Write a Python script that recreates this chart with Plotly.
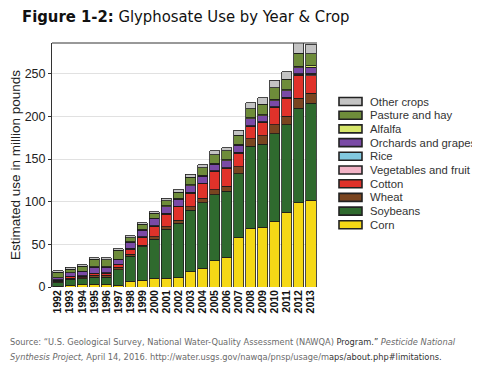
import plotly.graph_objects as go

years = [str(y) for y in range(1992, 2014)]

series_names = ["Corn", "Soybeans", "Wheat", "Cotton", "Vegetables and fruit", "Rice",
                "Orchards and grapes", "Alfalfa", "Pasture and hay", "Other crops"]

corn = [1, 2, 2.5, 3, 3, 2, 7, 8, 10, 10, 11, 18, 22, 31, 35, 58, 69, 70, 77, 87.5, 99, 101.5]
soybeans = [4, 7, 7, 8.5, 8.5, 18, 29, 39, 46, 57.5, 64, 72, 77, 77, 77, 75, 96, 97.5, 102.5, 102.5, 110.5, 114]
wheat = [2, 1.5, 1.5, 2, 2, 3, 2.5, 2, 3, 3, 3, 4, 5, 6, 6, 8, 9, 10, 10.5, 10, 11.5, 11.5]
cotton = [1, 1.5, 1.5, 2, 2.5, 3, 6, 9, 12, 15, 16, 16, 17, 21, 21, 16, 14, 15, 20, 21, 27, 20.5]
vegetables = [0.2, 0.3, 0.3, 0.3, 0.3, 0.3, 0.5, 0.5, 0.5, 0.5, 0.5, 0.5, 0.5, 0.5, 0.5, 0.5, 0.5, 0.5, 0.5, 0.7, 1.5, 2]
rice = [0.1, 0.2, 0.2, 0.2, 0.2, 0.2, 0.3, 0.3, 0.3, 0.3, 0.3, 0.3, 0.3, 0.5, 0.5, 0.5, 0.5, 0.5, 0.5, 0.6, 0.7, 0.8]
orchards = [2.5, 4, 5, 7, 6.5, 5.5, 7, 8, 8, 8, 8, 8, 8, 8, 8, 8, 8, 7, 7.5, 8, 7, 7.5]
alfalfa = [0.3, 0.5, 0.5, 0.5, 0.5, 0.5, 1, 1, 1, 1, 1, 1, 1, 1, 1, 1.5, 1.5, 1.5, 1.5, 1, 1.5, 1.5]
pasture = [6, 4, 6, 9, 8.5, 10.5, 4.5, 5.5, 5.5, 6, 7, 9, 9, 10, 11, 10.5, 10.5, 12, 13.5, 12.5, 15, 14]
other = [2, 2, 1.5, 2, 2, 2, 2, 2, 2, 2.5, 3, 3.5, 3.5, 4.5, 3.5, 5.5, 7, 8, 9, 8.5, 12.5, 11]

series_values = [corn, soybeans, wheat, cotton, vegetables, rice, orchards, alfalfa, pasture, other]
colors = ["#f5d816", "#2f6a2e", "#7a4520", "#e0322a", "#f2b3c6", "#82c9e0",
          "#7a4aa6", "#d6e66a", "#6e8c3a", "#c3c3c3"]

yticks = [0, 50, 100, 150, 200, 250]

SANS = "Arial, Liberation Sans, sans-serif"
NARROW = "DejaVu Sans Condensed"

fig = go.Figure()
for name, vals, col in zip(series_names, series_values, colors):
    fig.add_trace(go.Bar(x=years, y=vals, name=name,
                         marker=dict(color=col, line=dict(color="#1c1c1c", width=0.8)),
                         showlegend=False))

OFF = 8  # page body margin
W, H = 480 - OFF, 369 - OFF
PL, PR, PT, PB = 52, 317, 43, 287  # target plot-area edges in window pixels
ml, mt = PL - OFF, PT - OFF
mr, mb = W - (PR - OFF), H - (PB - OFF)
pw, ph = PR - PL, PB - PT

def px_x(px):
    return (px - PL) / pw

def px_y(py):
    return (PB - py) / ph

shapes = []
annotations = []
shapes.append(dict(type="line", xref="paper", yref="paper", x0=0, x1=1, y0=1, y1=1,
                   line=dict(color="#333", width=1)))

for i, (name, col) in enumerate(zip(reversed(series_names), reversed(colors))):
    cy = 101.5 + 13.7 * i
    shapes.append(dict(type="rect", xref="paper", yref="paper",
                       x0=px_x(339), x1=px_x(362), y0=px_y(cy + 4), y1=px_y(cy - 4),
                       fillcolor=col, line=dict(color="#222", width=1.6)))
    annotations.append(dict(xref="paper", yref="paper", x=px_x(368), y=px_y(cy),
                            xanchor="left", yanchor="middle", showarrow=False,
                            text=name, font=dict(family=SANS, size=11.3, color="#333")))

GRAY, DARK = "#6a6a6a", "#333333"
source_lines = [
    "Source: “U.S. Geological Survey, National Water-Quality Assessment (NAWQA) "
    f"<span style='color:{DARK}'>Program.”</span> <i>Pesticide National</i>",
    "<i>Synthesis Project,</i> April 14, 2016. http://water.usgs.gov/nawqa/pnsp/usage/m"
    f"<span style='color:{DARK}'>aps/about.php#limitations.</span>",
]
for j, line in enumerate(source_lines):
    annotations.append(dict(xref="paper", yref="paper", x=px_x(OFF), y=px_y(341 + 15 * j),
                            xanchor="left", yanchor="middle", showarrow=False, align="left",
                            text=line, font=dict(family=NARROW, size=9.2, color=GRAY)))

fig.update_layout(
    width=W, height=H,
    margin=dict(l=ml, r=mr, t=mt, b=mb, autoexpand=False),
    barmode="stack", bargap=0.16,
    paper_bgcolor="white", plot_bgcolor="white",
    title=dict(text="<b>Figure 1-2:</b> Glyphosate Use by Year &amp; Crop",
               x=(22 - OFF) / W, xanchor="left", y=1 - (16 - OFF) / H, yanchor="middle",
               xref="container", yref="container",
               font=dict(family=NARROW, size=16.5, color="#111")),
    shapes=shapes, annotations=annotations,
)
fig.update_xaxes(type="category", tickangle=-90, showgrid=False, ticks="",
                 tickvals=years, automargin=False,
                 tickfont=dict(family=SANS, size=10.5, color="#111", weight="bold"),
                 showline=False)
fig.update_yaxes(range=[0, 286], tickvals=yticks, ticks="outside", ticklen=3, tickcolor="#333",
                 automargin=False,
                 showgrid=True, gridcolor="rgba(215,215,215,0.75)", gridwidth=1,
                 layer="above traces", zeroline=False,
                 showline=True, linecolor="#333", linewidth=1,
                 tickfont=dict(family=SANS, size=12.5, color="#222"),
                 title=dict(text="Estimated use in million pounds", standoff=6,
                            font=dict(family=SANS, size=13.5, color="#222")))

fig.write_html("out.html")
